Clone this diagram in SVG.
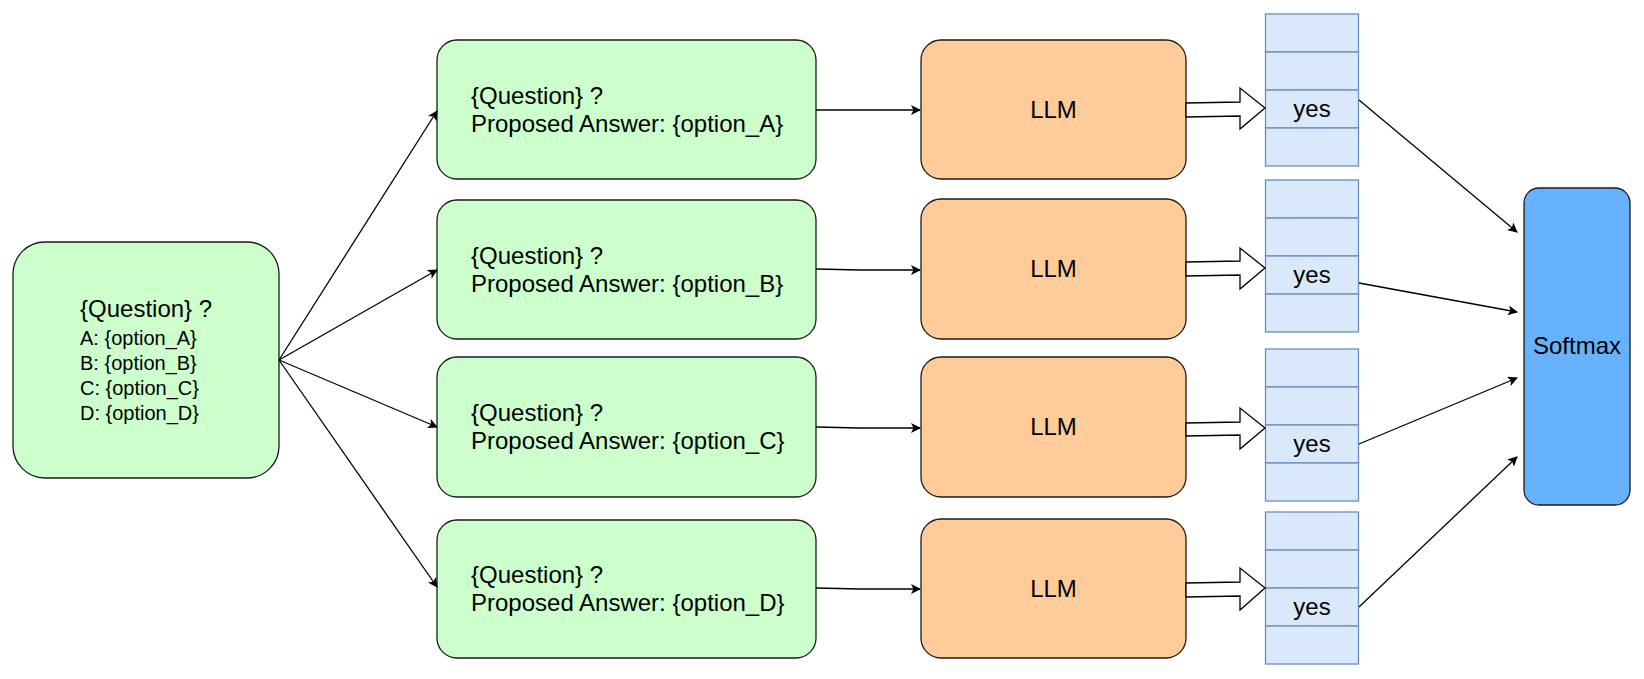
<svg xmlns="http://www.w3.org/2000/svg" width="1644" height="679" viewBox="0 0 1644 679">
<style>
.g{fill:#CCFFCC;stroke:#1a1a1a;stroke-width:1.3}
.o{fill:#FFCC99;stroke:#1a1a1a;stroke-width:1.3}
.s{fill:#66B2FF;stroke:#1a1a1a;stroke-width:1.3}
.cell{fill:#DAE8FC;stroke:#6C8EBF;stroke-width:1.3}
.t{font-family:"Liberation Sans",Arial,sans-serif;font-size:24px;fill:#000}
.ts{font-family:"Liberation Sans",Arial,sans-serif;font-size:20px;fill:#000}
.c{text-anchor:middle}
.ln{fill:none;stroke:#000;stroke-width:1.3;marker-end:url(#ah)}
.fa{fill:#fff;stroke:#000;stroke-width:1.3}
</style>
<defs>
<marker id="ah" viewBox="0 0 10 10" refX="9" refY="5" markerWidth="10" markerHeight="10" markerUnits="userSpaceOnUse" orient="auto">
<path d="M0,0 L10,5 L0,10 L2.5,5 Z" fill="#000"/>
</marker>
</defs>

<g id="question">
<rect class="g" x="13" y="242" width="266" height="236" rx="32"/>
<text class="t" x="80" y="317">{Question} ?</text>
<text class="ts" x="80" y="345">A: {option_A}</text>
<text class="ts" x="80" y="370">B: {option_B}</text>
<text class="ts" x="80" y="395">C: {option_C}</text>
<text class="ts" x="80" y="420">D: {option_D}</text>
</g>

<g id="promptA">
<rect class="g" x="437" y="40" width="379" height="139" rx="20"/>
<text class="t" x="471" y="104">{Question} ?</text>
<text class="t" x="471" y="132">Proposed Answer: {option_A}</text>
</g>
<g id="promptB">
<rect class="g" x="437" y="200" width="379" height="139" rx="20"/>
<text class="t" x="471" y="264">{Question} ?</text>
<text class="t" x="471" y="292">Proposed Answer: {option_B}</text>
</g>
<g id="promptC">
<rect class="g" x="437" y="357" width="379" height="140" rx="20"/>
<text class="t" x="471" y="421">{Question} ?</text>
<text class="t" x="471" y="449">Proposed Answer: {option_C}</text>
</g>
<g id="promptD">
<rect class="g" x="437" y="520" width="379" height="138" rx="20"/>
<text class="t" x="471" y="583">{Question} ?</text>
<text class="t" x="471" y="611">Proposed Answer: {option_D}</text>
</g>

<g id="llmA">
<rect class="o" x="921" y="40" width="265" height="139" rx="20"/>
<text class="t c" x="1053.5" y="118">LLM</text>
</g>
<g id="llmB">
<rect class="o" x="921" y="199" width="265" height="140" rx="20"/>
<text class="t c" x="1053.5" y="277">LLM</text>
</g>
<g id="llmC">
<rect class="o" x="921" y="357" width="265" height="140" rx="20"/>
<text class="t c" x="1053.5" y="435">LLM</text>
</g>
<g id="llmD">
<rect class="o" x="921" y="519" width="265" height="139" rx="20"/>
<text class="t c" x="1053.5" y="597">LLM</text>
</g>

<g id="tokensA">
<rect class="cell" x="1265.5" y="14" width="93" height="38"/>
<rect class="cell" x="1265.5" y="52" width="93" height="38"/>
<rect class="cell" x="1265.5" y="90" width="93" height="38"/>
<rect class="cell" x="1265.5" y="128" width="93" height="38"/>
<text class="t c" x="1312" y="117">yes</text>
</g>
<g id="tokensB">
<rect class="cell" x="1265.5" y="180" width="93" height="38"/>
<rect class="cell" x="1265.5" y="218" width="93" height="38"/>
<rect class="cell" x="1265.5" y="256" width="93" height="38"/>
<rect class="cell" x="1265.5" y="294" width="93" height="38"/>
<text class="t c" x="1312" y="283">yes</text>
</g>
<g id="tokensC">
<rect class="cell" x="1265.5" y="349" width="93" height="38"/>
<rect class="cell" x="1265.5" y="387" width="93" height="38"/>
<rect class="cell" x="1265.5" y="425" width="93" height="38"/>
<rect class="cell" x="1265.5" y="463" width="93" height="38"/>
<text class="t c" x="1312" y="452">yes</text>
</g>
<g id="tokensD">
<rect class="cell" x="1265.5" y="512" width="93" height="38"/>
<rect class="cell" x="1265.5" y="550" width="93" height="38"/>
<rect class="cell" x="1265.5" y="588" width="93" height="38"/>
<rect class="cell" x="1265.5" y="626" width="93" height="38"/>
<text class="t c" x="1312" y="615">yes</text>
</g>

<g id="softmax">
<rect class="s" x="1524" y="188" width="106" height="317" rx="15"/>
<text class="t c" x="1577" y="354">Softmax</text>
</g>

<g id="connectors">
<path class="ln" d="M279,360 L437,111"/>
<path class="ln" d="M279,360 L437,270"/>
<path class="ln" d="M279,360 L437,427"/>
<path class="ln" d="M279,360 L437,587"/>
<path class="ln" d="M816,110 L920,110"/>
<path class="ln" d="M816,269 L860,270 L920,270"/>
<path class="ln" d="M816,427 L860,428 L920,428"/>
<path class="ln" d="M816,588 L860,589 L920,589"/>
<polygon class="fa" points="1186,103 1240,102 1240,88 1265,108 1240,129 1240,116 1186,117"/>
<polygon class="fa" points="1186,262 1240,261 1240,248 1265,268 1240,289 1240,275 1186,276"/>
<polygon class="fa" points="1186,423 1240,422 1240,408 1265,428 1240,449 1240,435 1186,436"/>
<polygon class="fa" points="1186,583 1240,582 1240,568 1265,588 1240,610 1240,596 1186,597"/>
<path class="ln" d="M1359,100 L1517,232"/>
<path class="ln" d="M1359,283 L1517,312"/>
<path class="ln" d="M1359,444 L1517,378"/>
<path class="ln" d="M1359,607 L1517,457"/>
</g>
</svg>
